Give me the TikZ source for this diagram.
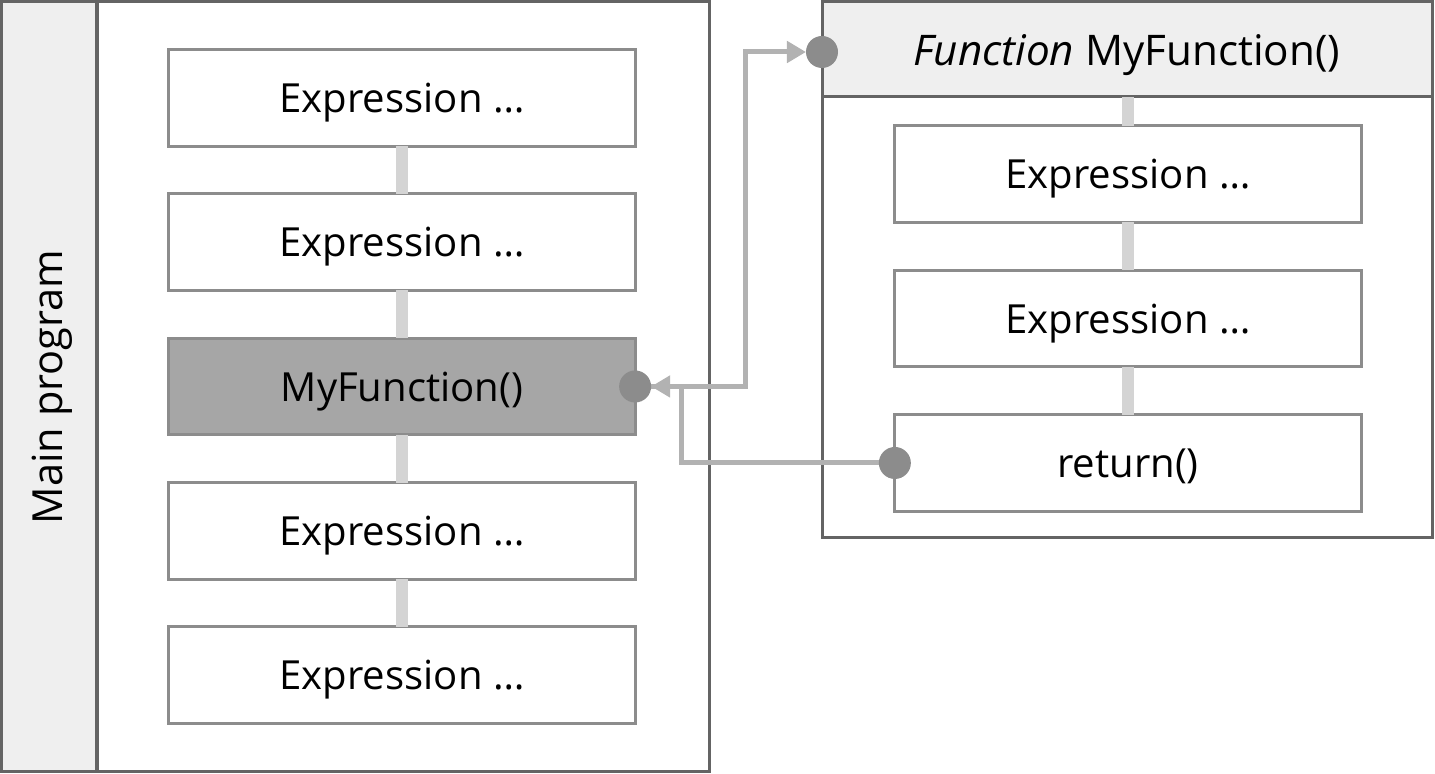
\documentclass[tikz,border=0pt]{standalone}
\usepackage{fontspec}
\setmainfont{Open Sans}
\usepackage{tikz}
\usetikzlibrary{arrows.meta,positioning}
\definecolor{framegray}{RGB}{100,100,100}
\definecolor{boxgray}{RGB}{140,140,140}
\definecolor{headfill}{RGB}{239,239,239}
\definecolor{callfill}{RGB}{166,166,166}
\definecolor{linkgray}{RGB}{178,178,178}
\definecolor{stepgray}{RGB}{212,212,212}
\definecolor{dotgray}{RGB}{140,140,140}

\tikzset{
  exprbox/.style={draw=boxgray,line width=0.03cm,fill=white,minimum width=4.66cm,
    minimum height=0.96cm,inner sep=0pt,outer sep=0pt,text height=9pt,text depth=0.6pt},
  stepline/.style={stepgray,line width=0.12cm},
  link/.style={linkgray,line width=0.05cm,-{Triangle[length=0.19cm,width=0.21cm]},
    shorten >=0.16cm},
}

\begin{document}
\begin{tikzpicture}[x=0.01cm,y=-0.01cm,font=\fontsize{11.4}{13}\selectfont]
        \useasboundingbox (0,0) rectangle (1435,774);
        % main program frame
        \fill[headfill] (1.5,1.5) rectangle (97,772);
        \draw[framegray,line width=0.03cm] (1.5,1.5) rectangle (709,772);
        \draw[framegray,line width=0.03cm] (97,1.5) -- (97,772);
        \node[rotate=90,font=\fontsize{11.8}{13}\selectfont] (mainlbl) at (52,387) {Main program};
        % function frame
        \fill[headfill] (822,1.5) rectangle (1432,97);
        \draw[framegray,line width=0.03cm] (822,1.5) rectangle (1432,538);
        \draw[framegray,line width=0.03cm] (822,97) -- (1432,97);
        \node[font=\fontsize{12}{14}\selectfont,text height=9pt,text depth=0.6pt] (fhead) at (1127,51) {\textit{Function} MyFunction()};
        \coordinate (fin) at (822,52);
        % steps of the main program
        \node[exprbox] (m1) at (402,98) {Expression \dots};
        \node[exprbox] (m2) at (402,242) {Expression \dots};
        \node[exprbox,fill=callfill] (call) at (402,386.5) {MyFunction()};
        \node[exprbox] (m4) at (402,531) {Expression \dots};
        \node[exprbox] (m5) at (402,675) {Expression \dots};
        % steps of the function
        \node[exprbox] (f1) at (1128,174) {Expression \dots};
        \node[exprbox] (f2) at (1128,318.5) {Expression \dots};
        \node[exprbox] (ret) at (1128,463) {return()};
        % sequence
        \foreach \a/\b in {m1/m2,m2/call,call/m4,m4/m5,f1/f2,f2/ret}
          \draw[stepline] (\a.south) -- (\b.north);
        \draw[stepline] (1128,97) -- (f1.north);
        % call and return
        \draw[link] (call.east) -- ++(110,0) |- (fin);
        \draw[link] (ret.west) -- ++(-213,0) |- (call.east);
        \fill[dotgray] (call.east) circle (16);
        \fill[dotgray] (fin) circle (16);
        \fill[dotgray] (ret.west) circle (16);
\end{tikzpicture}
\end{document}
